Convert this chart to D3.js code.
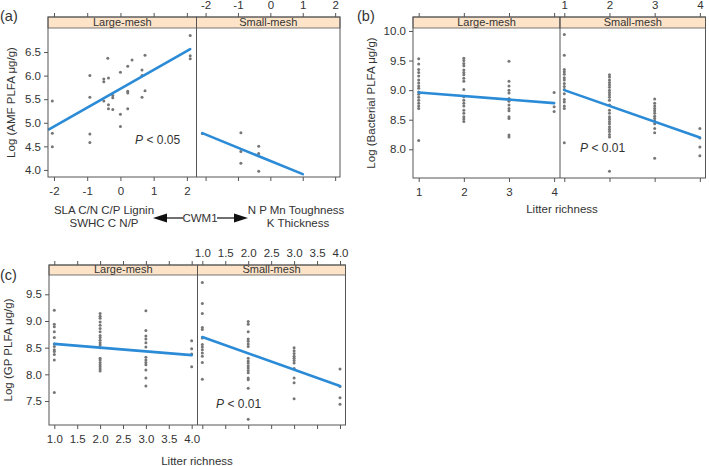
<!DOCTYPE html>
<html>
<head>
<meta charset="utf-8">
<script src="https://cdn.jsdelivr.net/npm/d3@7"></script>
<style>
  body { margin: 0; background: #fff; }
  text { font-family: "Liberation Sans", Arial, sans-serif; fill: #333; }
</style>
</head>
<body>
<div id="chart"></div>
<script>
// ---- data ----
const meshTypes = ["Large-mesh", "Small-mesh"];
const richness = [1, 2, 3, 4];

// (a) AMF vs CWM1
const aLargeCWM = [-2.05, -2.05, -2.05, -0.92, -0.92, -0.92, -0.92, -0.38, -0.5, -0.5, -0.36, -0.5, -0.36, -0.36,
  -0.23, -0.23, -0.23, 0, 0, 0, 0.22, 0.22, 0.22, 0.22, 0.35, 0.65, 0.65, 0.65, 0.74, 0.74, 2.1, 2.1, 2.1];
const aLargeAMF = [5.46, 4.78, 4.49, 6.0, 5.54, 4.76, 4.58, 6.37, 5.93, 5.87, 5.95, 5.46, 5.38, 5.3,
  5.28, 5.58, 5.53, 6.07, 5.18, 4.92, 6.2, 5.67, 5.63, 5.3, 6.33, 6.12, 6.0, 5.54, 6.43, 5.68, 6.85, 6.42, 6.36];
const aSmallCWM = [-2.1, -0.91, -0.91, -0.91, -0.36, -0.36, -0.36];
const aSmallAMF = [4.77, 4.79, 4.39, 4.14, 4.5, 4.35, 3.97];
const aFitLarge = [[-2.15, 4.86], [2.1, 6.56]];
const aFitSmall = [[-2.1, 4.78], [1.0, 3.91]];

// (b) bacterial PLFA by litter richness (index 0..3 = richness 1..4)
const bLarge = [
  [9.53, 9.44, 9.35, 9.3, 9.24, 9.17, 9.12, 9.07, 9.03, 8.97, 8.93, 8.88, 8.83, 8.78, 8.73, 8.69, 8.15],
  [9.54, 9.5, 9.45, 9.41, 9.34, 9.3, 9.26, 9.2, 9.15, 9.01, 8.89, 8.83, 8.78, 8.73, 8.66, 8.61, 8.55, 8.51, 8.47],
  [9.49, 9.15, 9.07, 9.0, 8.95, 8.86, 8.81, 8.75, 8.69, 8.65, 8.55, 8.52, 8.24, 8.21],
  [8.96, 8.72, 8.64]
];
const bSmall = [
  [9.94, 9.59, 9.35, 9.31, 9.27, 9.21, 9.17, 9.11, 9.06, 9.01, 8.94, 8.84, 8.8, 8.73, 8.69, 8.11],
  [9.26, 9.22, 9.17, 9.13, 9.09, 9.05, 9.0, 8.96, 8.92, 8.88, 8.83, 8.75, 8.66, 8.61, 8.55, 8.51, 8.47, 8.43,
    8.38, 8.34, 8.3, 8.25, 8.21, 7.63],
  [8.85, 8.78, 8.73, 8.69, 8.65, 8.61, 8.56, 8.52, 8.48, 8.43, 8.35, 8.28, 7.85],
  [8.35, 8.19, 8.04, 7.89]
];
const bFitLarge = [[1, 8.96], [4, 8.78]];
const bFitSmall = [[1, 9.0], [4, 8.2]];

// (c) GP PLFA by litter richness
const cLarge = [
  [9.2, 8.94, 8.89, 8.8, 8.69, 8.57, 8.52, 8.46, 8.43, 8.37, 8.27, 7.66],
  [9.14, 9.09, 9.05, 8.98, 8.92, 8.86, 8.8, 8.73, 8.69, 8.64, 8.59, 8.55, 8.5, 8.3, 8.27, 8.22, 8.18, 8.14, 8.1, 8.06],
  [9.19, 8.82, 8.72, 8.66, 8.59, 8.51, 8.32, 8.27, 8.22, 8.18, 8.08, 7.93, 7.78],
  [8.63, 8.48, 8.38, 8.14]
];
const cSmall = [
  [9.72, 9.33, 9.14, 8.88, 8.84, 8.68, 8.56, 8.51, 8.46, 8.4, 8.34, 8.22, 7.91],
  [8.99, 8.94, 8.8, 8.66, 8.62, 8.57, 8.52, 8.3, 8.25, 8.21, 8.16, 8.12, 8.07, 8.03, 7.93, 7.9, 7.74, 7.16],
  [8.5, 8.44, 8.39, 8.34, 8.3, 8.26, 8.21, 8.11, 7.93, 7.84, 7.54],
  [8.1, 7.77, 7.56, 7.44]
];
const cFitLarge = [[1, 8.57], [4, 8.36]];
const cFitSmall = [[1, 8.7], [4, 7.78]];

const aTicksX = [-2, -1, 0, 1, 2];
const aTicksY = [4.0, 4.5, 5.0, 5.5, 6.0, 6.5];
const bTicksX = [1, 2, 3, 4];
const bTicksY = [8.0, 8.5, 9.0, 9.5, 10.0];
const cTicksX = [1.0, 1.5, 2.0, 2.5, 3.0, 3.5, 4.0];
const cTicksY = [7.5, 8.0, 8.5, 9.0, 9.5];

// ---- drawing ----
const width = 709, height = 466;
const lineColor = "#2b8bd6", pointColor = "#767676", frameColor = "#555";

const svg = d3.select("#chart").append("svg")
  .attr("width", width).attr("height", height);

// plain hyphen instead of the unicode minus d3.format produces
const hyphen = f => v => f(v).replace("\u2212", "-");

function toPoints(xs, ys) { return xs.map((x, i) => ({ x, y: ys[i] })); }
function groupedPoints(groups) {
  return groups.flatMap((vals, i) => vals.map(v => ({ x: richness[i], y: v })));
}

function drawPanel(p) {
  const g = svg.append("g");
  const y = d3.scaleLinear().domain(p.yDomain).range([p.bottom, p.stripBottom]);
  const xs = [
    d3.scaleLinear().domain(p.xDomains[0]).range([p.left, p.mid]),
    d3.scaleLinear().domain(p.xDomains[1]).range([p.mid, p.right])
  ];
  const fmtX = hyphen(p.fmtX || d3.format("d"));

  [0, 1].forEach(k => {
    const x = xs[k];
    const x0 = k === 0 ? p.left : p.mid, x1 = k === 0 ? p.mid : p.right;

    // points
    g.append("g").selectAll("circle")
      .data(p.points[k]).enter().append("circle")
      .attr("cx", d => x(d.x)).attr("cy", d => y(d.y))
      .attr("r", 1.5).attr("fill", pointColor);

    // fitted line
    g.append("line")
      .attr("x1", x(p.fits[k][0][0])).attr("y1", y(p.fits[k][0][1]))
      .attr("x2", x(p.fits[k][1][0])).attr("y2", y(p.fits[k][1][1]))
      .attr("stroke", lineColor).attr("stroke-width", 2.6).attr("stroke-linecap", "round");

    // strip
    g.append("rect")
      .attr("x", x0).attr("y", p.stripTop)
      .attr("width", x1 - x0).attr("height", p.stripBottom - p.stripTop)
      .attr("fill", "#fde3c8").attr("stroke", frameColor).attr("stroke-width", 0.8);
    g.append("text")
      .attr("x", (x0 + x1) / 2).attr("y", p.stripBottom - 2)
      .attr("text-anchor", "middle").style("font-size", "11px")
      .text(meshTypes[k]);

    // x axes: large-mesh labelled at bottom, small-mesh labelled at top
    const bottomAxis = d3.axisBottom(x).tickValues(p.ticksX).tickSize(4).tickSizeOuter(0)
      .tickFormat(k === 0 ? fmtX : "");
    const topAxis = d3.axisTop(x).tickValues(p.ticksX).tickSize(4).tickSizeOuter(0)
      .tickFormat(k === 1 ? fmtX : "");
    const ab = g.append("g").attr("transform", `translate(0,${p.bottom})`).call(bottomAxis);
    const at = g.append("g").attr("transform", `translate(0,${p.stripTop})`).call(topAxis);
    [ab, at].forEach(a => {
      a.select(".domain").remove();
      a.selectAll("line").attr("stroke", frameColor);
      a.selectAll("text").style("font-size", "11.5px").attr("fill", "#333");
    });
    ab.selectAll("text").attr("dy", "0.95em");
    at.selectAll("text").attr("dy", "-0.1em");
  });

  // panel frame
  g.append("rect")
    .attr("x", p.left).attr("y", p.stripTop)
    .attr("width", p.right - p.left).attr("height", p.bottom - p.stripTop)
    .attr("fill", "none").attr("stroke", frameColor).attr("stroke-width", 1);
  g.append("line")
    .attr("x1", p.mid).attr("x2", p.mid).attr("y1", p.stripTop).attr("y2", p.bottom)
    .attr("stroke", frameColor).attr("stroke-width", 1);

  // y axis
  const ay = g.append("g").attr("transform", `translate(${p.left},0)`)
    .call(d3.axisLeft(y).tickValues(p.ticksY).tickSize(4).tickSizeOuter(0).tickFormat(d3.format(".1f")));
  ay.select(".domain").remove();
  ay.selectAll("line").attr("stroke", frameColor);
  ay.selectAll("text").style("font-size", "11.5px").attr("fill", "#333");

  // y title
  g.append("text")
    .attr("transform", `translate(${p.yTitleX},${(p.stripBottom + p.bottom) / 2}) rotate(-90)`)
    .attr("text-anchor", "middle").style("font-size", "11.5px")
    .text(p.yTitle);

  // panel tag
  g.append("text").attr("x", p.tagX).attr("y", p.tagY)
    .style("font-size", "14.5px").attr("fill", "#111").text(p.tag);

  // P value
  const px = xs[p.pPanel];
  const pt = g.append("text").attr("x", px(p.pPos[0])).attr("y", y(p.pPos[1]))
    .style("font-size", "12px");
  pt.append("tspan").style("font-style", "italic").text("P");
  pt.append("tspan").text(" < " + p.pText);

  if (p.xTitle) {
    g.append("text").attr("x", p.xTitleX).attr("y", p.xTitleY)
      .attr("text-anchor", "middle").style("font-size", "11.5px").text(p.xTitle);
  }
  return g;
}

drawPanel({
  left: 48, mid: 196.5, right: 340, stripTop: 17, stripBottom: 28, bottom: 177,
  xDomains: [[-2.18, 2.29], [-2.28, 2.15]], yDomain: [3.85, 7.01],
  ticksX: aTicksX, ticksY: aTicksY,
  points: [toPoints(aLargeCWM, aLargeAMF), toPoints(aSmallCWM, aSmallAMF)],
  fits: [aFitLarge, aFitSmall],
  yTitle: "Log (AMF PLFA μg/g)", yTitleX: 15,
  tag: "(a)", tagX: 0, tagY: 21,
  pPanel: 0, pPos: [0.44, 4.55], pText: "0.05"
});

drawPanel({
  left: 413, mid: 560, right: 705.5, stripTop: 17, stripBottom: 28, bottom: 178,
  xDomains: [[0.874, 4.13], [0.905, 4.125]], yDomain: [7.515, 10.05],
  ticksX: bTicksX, ticksY: bTicksY,
  points: [groupedPoints(bLarge), groupedPoints(bSmall)],
  fits: [bFitLarge, bFitSmall],
  yTitle: "Log (Bacterial PLFA μg/g)", yTitleX: 375,
  tag: "(b)", tagX: 357, tagY: 21,
  pPanel: 1, pPos: [1.35, 7.96], pText: "0.01",
  xTitle: "Litter richness", xTitleX: 562, xTitleY: 213
});

drawPanel({
  left: 49, mid: 197.5, right: 345.5, stripTop: 265, stripBottom: 275, bottom: 425,
  xDomains: [[0.884, 4.127], [0.895, 4.12]], yDomain: [7.05, 9.862],
  ticksX: cTicksX, ticksY: cTicksY, fmtX: d3.format(".1f"),
  points: [groupedPoints(cLarge), groupedPoints(cSmall)],
  fits: [cFitLarge, cFitSmall],
  yTitle: "Log (GP PLFA μg/g)", yTitleX: 12,
  tag: "(c)", tagX: 0, tagY: 280,
  pPanel: 1, pPos: [1.3, 7.37], pText: "0.01",
  xTitle: "Litter richness", xTitleX: 197, xTitleY: 465
});

// CWM1 annotation under panel (a)
const note = svg.append("g").style("font-size", "11.5px");
note.append("text").attr("x", 104).attr("y", 214).attr("text-anchor", "middle").text("SLA C/N C/P Lignin");
note.append("text").attr("x", 104).attr("y", 227).attr("text-anchor", "middle").text("SWHC C N/P");
note.append("text").attr("x", 296).attr("y", 214).attr("text-anchor", "middle").text("N P Mn Toughness");
note.append("text").attr("x", 298).attr("y", 227).attr("text-anchor", "middle").text("K Thickness");
note.append("text").attr("x", 200).attr("y", 222).attr("text-anchor", "middle").text("CWM1");
note.append("line").attr("x1", 163).attr("x2", 183).attr("y1", 218).attr("y2", 218)
  .attr("stroke", "#111").attr("stroke-width", 1.2);
note.append("line").attr("x1", 217).attr("x2", 238).attr("y1", 218).attr("y2", 218)
  .attr("stroke", "#111").attr("stroke-width", 1.2);
note.append("path").attr("d", "M153,218 L167,213.5 L167,222.5 Z").attr("fill", "#111");
note.append("path").attr("d", "M248,218 L234,213.5 L234,222.5 Z").attr("fill", "#111");
</script>
</body>
</html>
